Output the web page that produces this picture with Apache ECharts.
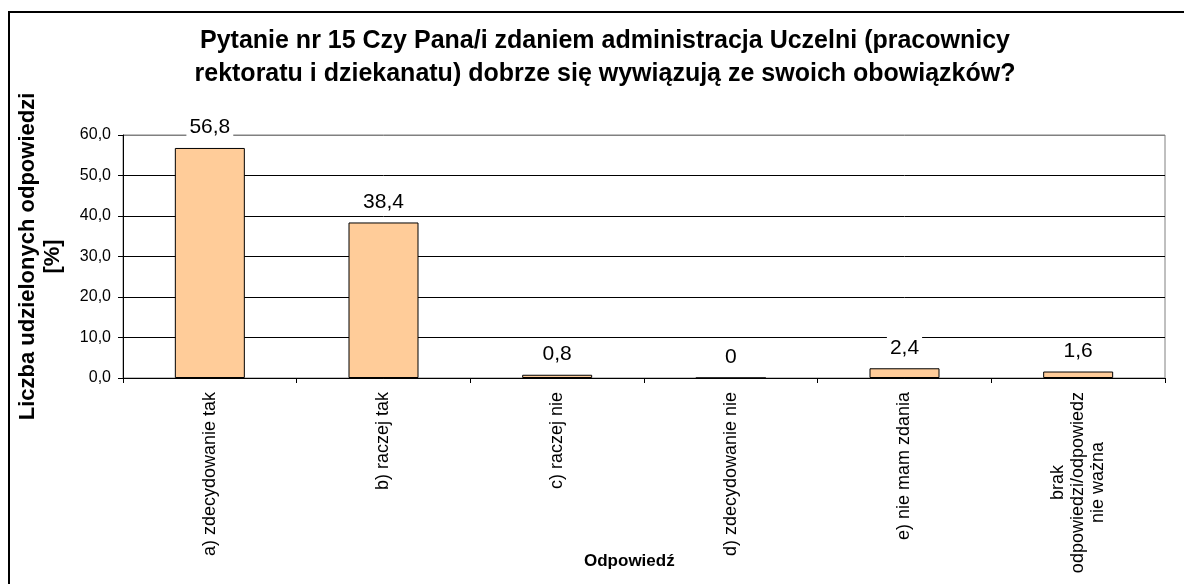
<!DOCTYPE html>
<html>
<head>
<meta charset="utf-8">
<script src="https://cdn.jsdelivr.net/npm/echarts@6/dist/echarts.min.js"></script>
<style>
  html, body { margin: 0; padding: 0; background: #fff; }
  #wykres { width: 1184px; height: 584px; }
</style>
</head>
<body>
<div id="wykres"></div>
<script>
var odpowiedzi = [
  'a) zdecydowanie tak',
  'b) raczej tak',
  'c) raczej nie',
  'd) zdecydowanie nie',
  'e) nie mam zdania',
  'brak\nodpowiedzi/odpowiedz\nnie ważna'
];
var procenty = [56.8, 38.4, 0.8, 0, 2.4, 1.6];
var osY = [0, 10, 20, 30, 40, 50, 60];

var font = 'Arial, "Liberation Sans", sans-serif';
var chartDom = document.getElementById('wykres');
var myChart = echarts.init(chartDom);
var option;

function przecinek(v) {
  return String(v).replace('.', ',');
}

option = {
  backgroundColor: '#fff',
  animation: false,
  title: {
    text: 'Pytanie nr 15 Czy Pana/i zdaniem administracja Uczelni (pracownicy\nrektoratu i dziekanatu) dobrze się wywiązują ze swoich obowiązków?',
    left: 600,
    top: 20,
    textAlign: 'center',
    textStyle: {
      fontFamily: font,
      fontSize: 25,
      fontWeight: 'bold',
      lineHeight: 33,
      color: '#000'
    }
  },
  graphic: [
    {
      type: 'rect',
      shape: { x: 9, y: 12, width: 1400, height: 800 },
      style: { fill: 'none', stroke: '#000', lineWidth: 2 },
      silent: true
    },
    {
      type: 'text',
      left: 584,
      top: 553,
      style: {
        text: 'Odpowiedź',
        fontFamily: font,
        fontSize: 17,
        fontWeight: 'bold',
        fill: '#000'
      }
    }
  ],
  grid: {
    left: 123,
    right: 19,
    top: 135,
    bottom: 206,
    show: true,
    borderColor: '#808080',
    borderWidth: 1
  },
  xAxis: {
    type: 'category',
    data: odpowiedzi,
    axisLine: { lineStyle: { color: '#000', width: 1 } },
    axisTick: { show: true, length: 5, lineStyle: { color: '#000' } },
    axisLabel: {
      rotate: 90,
      interval: 0,
      margin: 14,
      fontFamily: font,
      fontSize: 18,
      lineHeight: 20,
      color: '#000',
      formatter: function (v) {
        if (v.indexOf('\n') < 0) return v;
        return v.split('\n').map(function (l) { return '{c|' + l + '}'; }).join('\n');
      },
      rich: {
        c: { align: 'center', fontFamily: font, fontSize: 18, lineHeight: 20, color: '#000' }
      }
    }
  },
  yAxis: {
    type: 'value',
    min: osY[0],
    max: osY[osY.length - 1],
    interval: 10,
    name: 'Liczba udzielonych odpowiedzi\n[%]',
    nameLocation: 'middle',
    nameRotate: 90,
    nameGap: 58,
    nameTextStyle: {
      fontFamily: font,
      fontSize: 22,
      fontWeight: 'bold',
      lineHeight: 25,
      color: '#000'
    },
    axisLine: { show: true, lineStyle: { color: '#000', width: 1 } },
    axisTick: { show: true, length: 5, lineStyle: { color: '#000' } },
    axisLabel: {
      margin: 12,
      fontFamily: font,
      fontSize: 16,
      color: '#000',
      formatter: function (v) { return v.toFixed(1).replace('.', ','); }
    },
    splitLine: {
      lineStyle: {
        color: ['#000', '#000', '#000', '#000', '#000', '#000', '#808080'],
        width: 1
      }
    }
  },
  series: [
    {
      type: 'bar',
      data: procenty,
      barWidth: 70,
      itemStyle: {
        color: '#FFCC99',
        borderColor: '#000',
        borderWidth: 1
      },
      label: {
        show: true,
        position: 'top',
        distance: 9,
        fontFamily: font,
        fontSize: 21,
        color: '#000',
        backgroundColor: '#fff',
        padding: [1, 3],
        formatter: function (p) { return przecinek(p.value); }
      }
    }
  ]
};

option && myChart.setOption(option);
</script>
</body>
</html>
